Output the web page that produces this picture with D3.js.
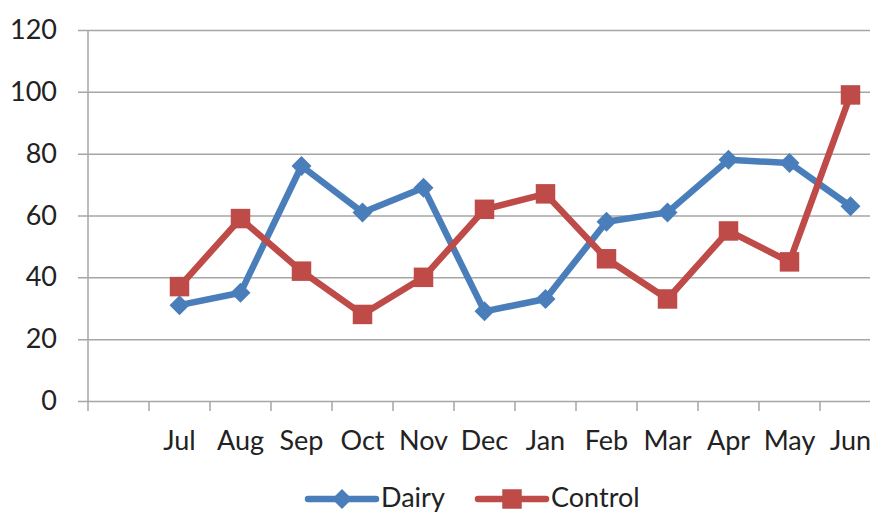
<!DOCTYPE html>
<meta charset="utf-8">
<html>
<style type='text/css'>
  body { margin:0; background:#fff; }
  text { font-family: Lato, "Open Sans", sans-serif; fill:#222; }
</style>
<script src="https://d3js.org/d3.v7.min.js"></script>
<body>
<svg id="chart" width="870" height="513"></svg>
<script>

// data
var months = ["", "Jul", "Aug", "Sep", "Oct", "Nov", "Dec", "Jan", "Feb", "Mar", "Apr", "May", "Jun"];
var dairy = [null, 31, 35, 76, 61, 69, 29, 33, 58, 61, 78, 77, 63];
var control = [null, 37, 59, 42, 28, 40, 62, 67, 46, 33, 55, 45, 99];
var yTicks = [0, 20, 40, 60, 80, 100, 120];

var svg = d3.select("#chart");

var plotLeft = 88, plotTop = 30, plotBottom = 401, step = 61;

var x = d3.scaleBand()
  .domain(months)
  .range([plotLeft, plotLeft + step * months.length])
  .padding(0);

var y = d3.scaleLinear()
  .domain([0, 120])
  .range([plotBottom, plotTop]);

// excel-like diamond: square turned 45 degrees
var squareDiamond = {
  draw: function(ctx, size) {
    var r = Math.sqrt(size / 2);
    ctx.moveTo(0, -r);
    ctx.lineTo(r, 0);
    ctx.lineTo(0, r);
    ctx.lineTo(-r, 0);
    ctx.closePath();
  }
};

// grid + y axis
var yAxis = d3.axisLeft(y)
  .tickValues(yTicks)
  .tickSize(-(870 - plotLeft))
  .tickPadding(21);

var gy = svg.append("g")
  .attr("transform", "translate(" + plotLeft + ",0)")
  .call(yAxis);
gy.select(".domain").remove();
gy.selectAll(".tick line")
  .attr("x1", -10)
  .attr("stroke", "#a6a6a6")
  .attr("stroke-width", 1.5);
gy.selectAll(".tick text")
  .attr("x", -31)
  .style("font-size", "27px")
  .attr("fill", "#222");

// y axis line
svg.append("line")
  .attr("x1", plotLeft).attr("x2", plotLeft)
  .attr("y1", plotTop).attr("y2", plotBottom + 10)
  .attr("stroke", "#a6a6a6").attr("stroke-width", 1.5);

// x axis: labels centred on categories, ticks on boundaries
var xAxis = d3.axisBottom(x).tickSize(0).tickPadding(30);
var gx = svg.append("g")
  .attr("transform", "translate(0," + plotBottom + ")")
  .call(xAxis);
gx.select(".domain").remove();
gx.selectAll(".tick text")
  .style("font-size", "27px")
  .attr("fill", "#222");

svg.append("g").selectAll("line")
  .data(months.slice(1))
  .join("line")
  .attr("x1", d => x(d)).attr("x2", d => x(d))
  .attr("y1", plotBottom).attr("y2", plotBottom + 10)
  .attr("stroke", "#a6a6a6").attr("stroke-width", 1.5);

var line = d3.line()
  .defined(d => d.v != null)
  .x(d => x(d.m) + x.bandwidth() / 2)
  .y(d => y(d.v));

var series = [
  { name: "Dairy", values: dairy, color: "#4a7ebb", marker: squareDiamond, size: 200 },
  { name: "Control", values: control, color: "#be4b48", marker: d3.symbolSquare, size: 380 }
];

series.forEach(function(s) {
  var pts = months.map((m, i) => ({ m: m, v: s.values[i] }));
  svg.append("path")
    .datum(pts)
    .attr("fill", "none")
    .attr("stroke", s.color)
    .attr("stroke-width", 6.5)
    .attr("stroke-linejoin", "round")
    .attr("d", line);
  svg.append("g").selectAll("path")
    .data(pts.filter(d => d.v != null))
    .join("path")
    .attr("transform", d => "translate(" + (x(d.m) + x.bandwidth() / 2) + "," + y(d.v) + ")")
    .attr("d", d3.symbol().type(s.marker).size(s.size))
    .attr("fill", s.color);
});

// legend
var legendPos = [308, 478];
series.forEach(function(s, i) {
  var g = svg.append("g").attr("transform", "translate(" + legendPos[i] + ",499)");
  g.append("line")
    .attr("x1", 0).attr("x2", 68)
    .attr("stroke", s.color).attr("stroke-width", 6.5)
    .attr("stroke-linecap", "round");
  g.append("path")
    .attr("transform", "translate(34,0)")
    .attr("d", d3.symbol().type(s.marker).size(s.size))
    .attr("fill", s.color);
  g.append("text")
    .attr("x", 73)
    .attr("y", 8)
    .style("font-size", "27px")
    .text(s.name);
});

</script>
</body>
</html>
